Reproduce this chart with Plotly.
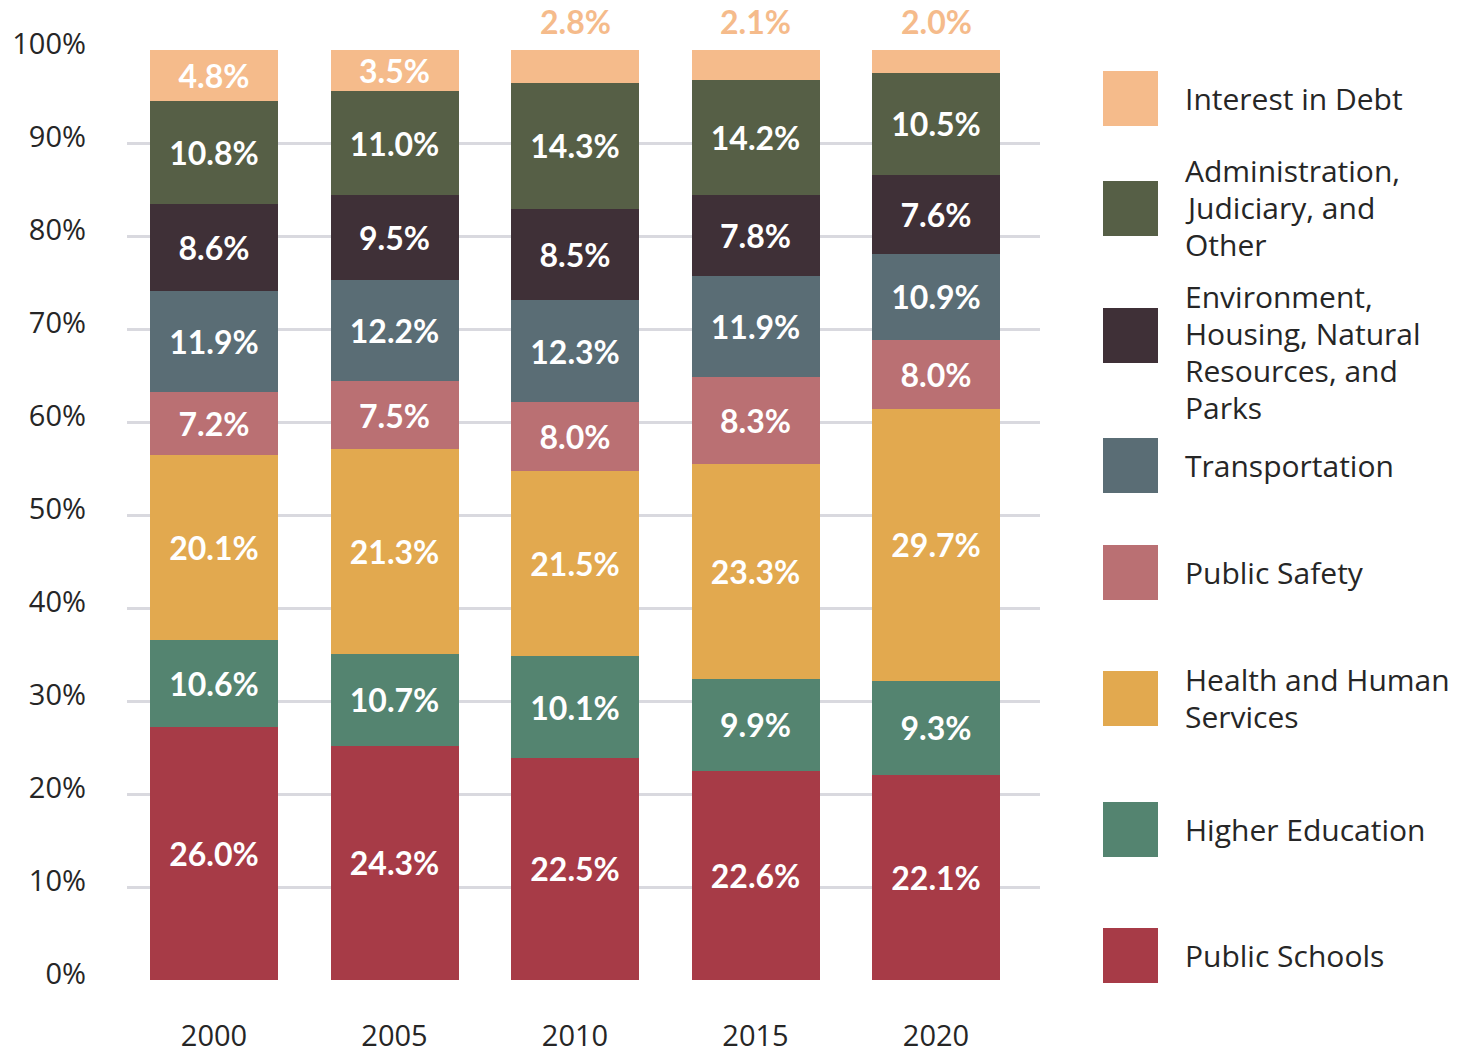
import plotly.graph_objects as go

# ---------------- data ----------------
years = ["2000", "2005", "2010", "2015", "2020"]

series_names = [
    "Public Schools",
    "Higher Education",
    "Health and Human Services",
    "Public Safety",
    "Transportation",
    "Environment, Housing, Natural Resources, and Parks",
    "Administration, Judiciary, and Other",
    "Interest in Debt",
]

# bar segment heights as drawn (share of the 100% bar)
public_schools = [27.25, 25.2, 23.9, 22.5, 22.0]
higher_education = [9.35, 9.9, 10.9, 9.9, 10.2]
health_human = [19.8, 22.0, 19.9, 23.1, 29.2]
public_safety = [6.8, 7.3, 7.4, 9.3, 7.4]
transportation = [10.9, 10.9, 11.0, 10.9, 9.3]
environment = [9.3, 9.1, 9.8, 8.7, 8.5]
administration = [11.1, 11.2, 13.6, 12.4, 10.9]
interest_debt = [5.5, 4.4, 3.5, 3.2, 2.5]

# printed segment labels
public_schools_lbl = ["26.0%", "24.3%", "22.5%", "22.6%", "22.1%"]
higher_education_lbl = ["10.6%", "10.7%", "10.1%", "9.9%", "9.3%"]
health_human_lbl = ["20.1%", "21.3%", "21.5%", "23.3%", "29.7%"]
public_safety_lbl = ["7.2%", "7.5%", "8.0%", "8.3%", "8.0%"]
transportation_lbl = ["11.9%", "12.2%", "12.3%", "11.9%", "10.9%"]
environment_lbl = ["8.6%", "9.5%", "8.5%", "7.8%", "7.6%"]
administration_lbl = ["10.8%", "11.0%", "14.3%", "14.2%", "10.5%"]
interest_debt_lbl = ["4.8%", "3.5%", "2.8%", "2.1%", "2.0%"]
interest_outside = [False, False, True, True, True]

y_ticks = [0, 10, 20, 30, 40, 50, 60, 70, 80, 90, 100]

# ---------------- style ----------------
colors = ["#A73B47", "#548470", "#E2A94F", "#BA7073", "#5A6D75",
          "#3F3037", "#565F46", "#F5BB8B"]
legend_lines = [
    ["Public Schools"],
    ["Higher Education"],
    ["Health and Human", "Services"],
    ["Public Safety"],
    ["Transportation"],
    ["Environment,", "Housing, Natural", "Resources, and", "Parks"],
    ["Administration,", "Judiciary, and", "Other"],
    ["Interest in Debt"],
]
# legend layout (pixel centres, top-down page coords)
legend_swatch_py = [955.5, 829.5, 698.5, 572.5, 465.5, 335.5, 208.5, 98.5]
legend_text_py = [955, 829, 698, 572, 465, 352, 207, 98]
LEGEND_LINE_PX = 37

W, H = 1468, 1055
PL, PR, PT, PB = 127, 1040, 50, 980  # plot area in px

TEXT_DARK = "#262626"
LABEL_FONT = "Lato, 'Open Sans', sans-serif"
AXIS_FONT = "'Open Sans', 'Noto Sans', sans-serif"


def px_x(px):
    return (px - PL) / (PR - PL)


def px_y(py):
    return (PB - py) / (PB - PT)


heights = [public_schools, higher_education, health_human, public_safety,
           transportation, environment, administration, interest_debt]
labels = [public_schools_lbl, higher_education_lbl, health_human_lbl,
          public_safety_lbl, transportation_lbl, environment_lbl,
          administration_lbl, interest_debt_lbl]

xpos = list(range(len(years)))

fig = go.Figure()
for k, name in enumerate(series_names):
    txt = list(labels[k])
    if k == len(series_names) - 1:
        txt = [("" if out else t) for t, out in zip(txt, interest_outside)]
    fig.add_trace(go.Bar(
        x=xpos, y=heights[k], name=name,
        marker=dict(color=colors[k], line=dict(width=0)),
        width=0.709,
        text=txt, textposition="inside", insidetextanchor="middle",
        textangle=0,
        textfont=dict(family=LABEL_FONT, size=32, color="white", weight="bold"),
        showlegend=False,
        hoverinfo="skip",
    ))

# outside labels above the short top segments
totals = [min(round(sum(h[i] for h in heights), 6), 100) for i in range(len(years))]
annotations = []
for i, out in enumerate(interest_outside):
    if out:
        annotations.append(dict(
            x=xpos[i], y=totals[i], xref="x", yref="y",
            text=interest_debt_lbl[i], showarrow=False,
            yanchor="bottom", yshift=7,
            font=dict(family=LABEL_FONT, size=32, color=colors[-1], weight="bold"),
        ))

# legend drawn as swatches + text
shapes = []
for k in range(len(series_names)):
    cy = legend_swatch_py[k]
    shapes.append(dict(
        type="rect", xref="paper", yref="paper",
        x0=px_x(1103), x1=px_x(1158),
        y0=px_y(cy + 27.5), y1=px_y(cy - 27.5),
        fillcolor=colors[k], line=dict(width=0), layer="above",
    ))
    lines = legend_lines[k]
    n = len(lines)
    for j, line in enumerate(lines):
        ly = legend_text_py[k] + (j - (n - 1) / 2) * LEGEND_LINE_PX
        annotations.append(dict(
            x=px_x(1183), y=px_y(ly), xref="paper", yref="paper",
            text=line, showarrow=False, xanchor="left", yanchor="middle",
            align="left",
            font=dict(family=AXIS_FONT, size=30, color=TEXT_DARK),
        ))

fig.update_layout(
    barmode="stack",
    width=W, height=H,
    margin=dict(l=PL, r=W - PR, t=PT, b=H - PB, pad=0),
    paper_bgcolor="white", plot_bgcolor="white",
    uniformtext=dict(minsize=32, mode="show"),
    shapes=shapes,
    annotations=annotations,
    xaxis=dict(
        range=[-0.482, 4.576],
        tickvals=xpos, ticktext=years,
        showgrid=False, zeroline=False, showline=False,
        ticks="", ticklabelstandoff=36, automargin=False,
        tickfont=dict(family=AXIS_FONT, size=29, color=TEXT_DARK),
    ),
    yaxis=dict(
        range=[0, 100],
        tickvals=y_ticks, ticktext=[f"{v}%" for v in y_ticks],
        showgrid=True, gridcolor="#D9D9DF", gridwidth=3,
        zeroline=False, showline=False,
        ticks="", ticklabelstandoff=40, ticklabelshift=-6, automargin=False,
        tickfont=dict(family=AXIS_FONT, size=29, color=TEXT_DARK),
    ),
)

fig.write_html(
    "out.html",
    config={"displayModeBar": False, "staticPlot": True},
    post_script="document.body.style.margin='0';document.body.style.overflow='hidden';",
)
